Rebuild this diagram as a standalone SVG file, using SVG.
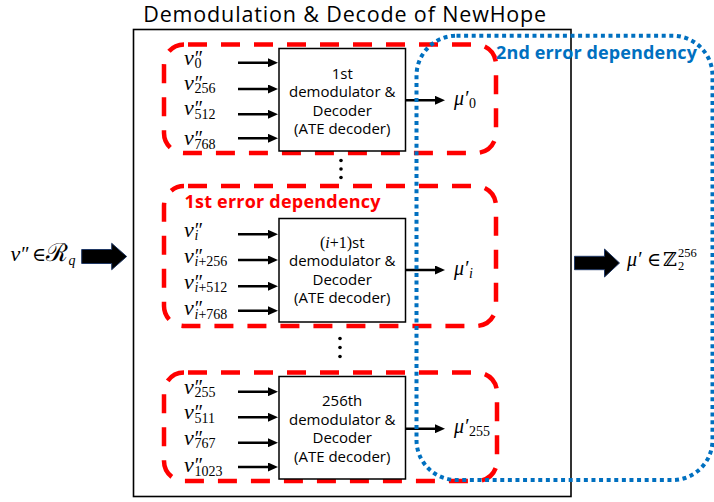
<svg xmlns="http://www.w3.org/2000/svg" width="714" height="502" viewBox="0 0 714 502">
<defs>
<style>
.box{fill:#fff;stroke:#000;stroke-width:1.5}
.outer{fill:none;stroke:#000;stroke-width:1.6}
.red{fill:none;stroke:#ff0000;stroke-width:4.5;stroke-dasharray:19 14;stroke-dashoffset:29}
.blue{fill:none;stroke:#0070c0;stroke-width:4;stroke-dasharray:4 3.6}
.t{font-family:"Open Sans","Liberation Sans",sans-serif;font-size:15px;fill:#000;text-anchor:middle}
.m{font-family:"Liberation Serif","DejaVu Serif",serif;font-style:italic;font-size:22px;fill:#000}
.mu{font-family:"Liberation Serif","DejaVu Serif",serif;font-style:italic;font-size:20px;fill:#000}
.pr{font-size:20px;font-style:italic}
.sb{font-size:14px;font-style:normal}
.si{font-size:14px;font-style:italic}
.arr{stroke:#000;stroke-width:2.5;fill:none;marker-end:url(#ah)}
.big{fill:#000;stroke:#203864;stroke-width:1}
.lbl{font-family:"Open Sans","Liberation Sans",sans-serif;font-weight:bold;font-size:18px}
</style>
<marker id="ah" markerUnits="userSpaceOnUse" markerWidth="10" markerHeight="9" refX="5" refY="4.5" orient="auto"><path d="M0,0 L10,4.5 L0,9 z" fill="#000"/></marker>
</defs>
<rect x="0" y="0" width="714" height="502" fill="#fff"/>

<g id="title">
<text x="344.7" y="21.5" class="t" style="font-size:21.5px" textLength="403">Demodulation &amp; Decode of NewHope</text>
</g>

<g id="outer-box">
<rect x="133.5" y="29.5" width="437.5" height="467" class="outer"/>
</g>

<g id="region1">
<rect x="164" y="44.5" width="332" height="108.5" rx="20" class="red"/>
</g>
<g id="region2">
<rect x="164" y="186" width="332" height="140" rx="20" class="red"/>
<text x="184.5" y="208" class="lbl" fill="#ff0000" textLength="196">1st error dependency</text>
</g>
<g id="region3">
<rect x="164" y="372.5" width="333" height="108.5" rx="20" class="red"/>
</g>

<g id="block1">
<rect x="279" y="48.5" width="126.5" height="102.5" class="box"/>
<text x="342.2" y="78.5" class="t">1st</text>
<text x="342.2" y="97" class="t">demodulator &amp;</text>
<text x="342.2" y="115.5" class="t">Decoder</text>
<text x="342.2" y="133.5" class="t">(ATE decoder)</text>
</g>
<g id="block2">
<rect x="279" y="218.5" width="126.5" height="103.5" class="box"/>
<text x="342.2" y="247.5" class="t"><tspan style="font-family:'Liberation Serif',serif;font-size:16px">(</tspan><tspan style="font-family:'Liberation Serif',serif;font-size:16px;font-style:italic">i</tspan><tspan style="font-family:'Liberation Serif',serif;font-size:16px">+1)</tspan>st</text>
<text x="342.2" y="266" class="t">demodulator &amp;</text>
<text x="342.2" y="284.5" class="t">Decoder</text>
<text x="342.2" y="303" class="t">(ATE decoder)</text>
</g>
<g id="block3">
<rect x="279" y="376.5" width="126.5" height="102.5" class="box"/>
<text x="342.2" y="406" class="t">256th</text>
<text x="342.2" y="424.5" class="t">demodulator &amp;</text>
<text x="342.2" y="443" class="t">Decoder</text>
<text x="342.2" y="461.5" class="t">(ATE decoder)</text>
</g>

<g id="inputs1">
<text x="184" y="64.5" class="m">v<tspan x="193.5" class="pr">″</tspan><tspan x="194.5" dy="3.5" class="sb">0</tspan></text>
<text x="184" y="89.5" class="m">v<tspan x="193.5" class="pr">″</tspan><tspan x="194.5" dy="3.5" class="sb">256</tspan></text>
<text x="184" y="115" class="m">v<tspan x="193.5" class="pr">″</tspan><tspan x="194.5" dy="3.5" class="sb">512</tspan></text>
<text x="184" y="145" class="m">v<tspan x="193.5" class="pr">″</tspan><tspan x="194.5" dy="3.5" class="sb">768</tspan></text>
</g>
<g id="inputs2">
<text x="184" y="236.5" class="m">v<tspan x="193.5" class="pr">″</tspan><tspan x="194.5" dy="3.5" class="si">i</tspan></text>
<text x="184" y="262.5" class="m">v<tspan x="193.5" class="pr">″</tspan><tspan x="194.5" dy="3.5" class="si">i</tspan><tspan class="sb">+256</tspan></text>
<text x="184" y="288.5" class="m">v<tspan x="193.5" class="pr">″</tspan><tspan x="194.5" dy="3.5" class="si">i</tspan><tspan class="sb">+512</tspan></text>
<text x="184" y="315" class="m">v<tspan x="193.5" class="pr">″</tspan><tspan x="194.5" dy="3.5" class="si">i</tspan><tspan class="sb">+768</tspan></text>
</g>
<g id="inputs3">
<text x="184" y="393.5" class="m">v<tspan x="193.5" class="pr">″</tspan><tspan x="194.5" dy="3.5" class="sb">255</tspan></text>
<text x="184" y="419" class="m">v<tspan x="193.5" class="pr">″</tspan><tspan x="194.5" dy="3.5" class="sb">511</tspan></text>
<text x="184" y="444.5" class="m">v<tspan x="193.5" class="pr">″</tspan><tspan x="194.5" dy="3.5" class="sb">767</tspan></text>
<text x="184" y="472" class="m">v<tspan x="193.5" class="pr">″</tspan><tspan x="194.5" dy="3.5" class="sb">1023</tspan></text>
</g>

<g id="outputs">
<text x="454" y="104.5" class="mu">μ′<tspan x="469" dy="3" class="sb">0</tspan></text>
<text x="454" y="274.5" class="mu">μ′<tspan x="469" dy="3" class="si">i</tspan></text>
<text x="454" y="433" class="mu">μ′<tspan x="469" dy="3" class="sb">255</tspan></text>
</g>

<g id="ellipsis">
<circle cx="341" cy="160.5" r="1.8"/><circle cx="341" cy="169" r="1.8"/><circle cx="341" cy="177.5" r="1.8"/>
<circle cx="340" cy="338.5" r="1.8"/><circle cx="340" cy="347.5" r="1.8"/><circle cx="340" cy="356.5" r="1.8"/>
</g>

<g id="input-label">
<text x="10.5" y="261" class="m">v<tspan x="20" class="pr">″</tspan><tspan x="32" style="font-style:normal;font-size:19px">∈</tspan><tspan x="46" style="font-style:normal;font-size:25px">ℛ</tspan><tspan dx="0.5" dy="3.5" class="si">q</tspan></text>
</g>
<g id="output-label">
<text x="627" y="266" class="mu">μ′<tspan x="647" style="font-style:normal;font-size:19px">∈</tspan><tspan x="663" style="font-style:normal;font-size:19px">ℤ</tspan><tspan x="678" dy="4" class="sb" style="font-size:12.5px">2</tspan><tspan x="678" dy="-13" class="sb" style="font-size:12.5px">256</tspan></text>
</g>

<g id="connectors">
<line x1="238" y1="62.7" x2="273" y2="62.7" class="arr"/>
<line x1="238" y1="89" x2="273" y2="89" class="arr"/>
<line x1="238" y1="114.3" x2="273" y2="114.3" class="arr"/>
<line x1="238" y1="138.3" x2="273" y2="138.3" class="arr"/>
<line x1="238" y1="234.3" x2="273" y2="234.3" class="arr"/>
<line x1="238" y1="260" x2="273" y2="260" class="arr"/>
<line x1="238" y1="286.3" x2="273" y2="286.3" class="arr"/>
<line x1="238" y1="310.7" x2="273" y2="310.7" class="arr"/>
<line x1="238" y1="391.7" x2="273" y2="391.7" class="arr"/>
<line x1="238" y1="417.3" x2="273" y2="417.3" class="arr"/>
<line x1="238" y1="442.7" x2="273" y2="442.7" class="arr"/>
<line x1="238" y1="467" x2="273" y2="467" class="arr"/>
<line x1="405.5" y1="100.3" x2="440" y2="100.3" class="arr"/>
<line x1="405.5" y1="270" x2="440" y2="270" class="arr"/>
<line x1="405.5" y1="428.7" x2="440" y2="428.7" class="arr"/>
<polygon points="81.7,249.5 111.7,249.5 111.7,243.3 126.7,256.5 111.7,269.7 111.7,263.5 81.7,263.5" class="big"/>
<polygon points="574.5,256.3 604.5,256.3 604.5,249 619.5,263 604.5,277 604.5,269.7 574.5,269.7" class="big"/>
</g>

<g id="region-2nd">
<rect x="416.5" y="35.7" width="296" height="444.3" rx="40" class="blue"/>
<text x="496" y="59.3" class="lbl" fill="#0070c0" textLength="201">2nd error dependency</text>
</g>
</svg>
